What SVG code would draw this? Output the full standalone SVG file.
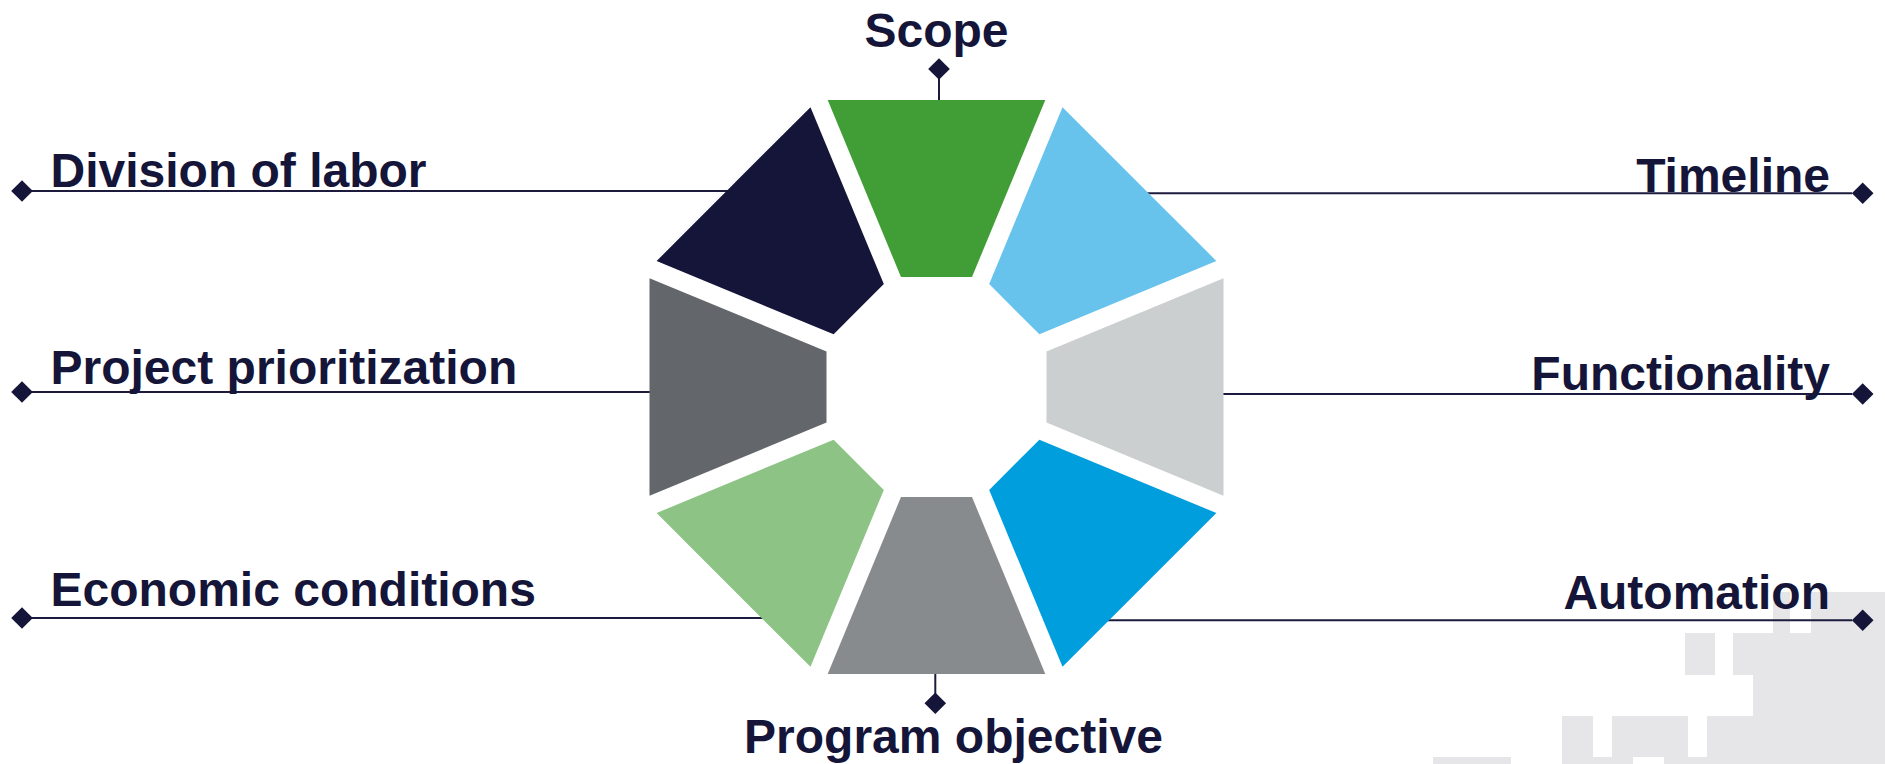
<svg xmlns="http://www.w3.org/2000/svg" width="1885" height="764" viewBox="0 0 1885 764">
  <style>
    .bg { fill: #E6E6E8; }
    .lbl { font-family: "Liberation Sans", Arial, sans-serif; font-weight: bold; font-size: 48px; fill: #141538; }
    .conn { stroke: #1C1B3D; stroke-width: 2; fill: none; }
    .dia { fill: #141538; }
  </style>
  <defs>
    <polygon id="seg" points="-108.8,-287 108.8,-287 35.5,-110 -35.5,-110"/>
    <polygon id="dm" points="0,-10.8 10.8,0 0,10.8 -10.8,0"/>
  </defs>
  <rect width="1885" height="764" fill="#FFFFFF"/>

  <g id="background">
    <rect class="bg" x="1773" y="592" width="17" height="41"/>
    <rect class="bg" x="1811" y="592" width="74" height="41"/>
    <rect class="bg" x="1685" y="633" width="30" height="42"/>
    <rect class="bg" x="1733" y="633" width="152" height="42"/>
    <rect class="bg" x="1753" y="675" width="132" height="41"/>
    <rect class="bg" x="1562" y="716" width="31" height="41"/>
    <rect class="bg" x="1612" y="716" width="76" height="41"/>
    <rect class="bg" x="1707" y="716" width="178" height="41"/>
    <rect class="bg" x="1433" y="757" width="78" height="7"/>
    <rect class="bg" x="1562" y="757" width="71" height="7"/>
    <rect class="bg" x="1664" y="757" width="221" height="7"/>
  </g>

  <g id="connectors">
    <line class="conn" x1="939" y1="78" x2="939" y2="104"/>
    <line class="conn" x1="935.3" y1="670" x2="935.3" y2="694"/>
    <line class="conn" x1="30" y1="191" x2="734" y2="191"/>
    <line class="conn" x1="1142" y1="193.3" x2="1852" y2="193.3"/>
    <line class="conn" x1="30" y1="392" x2="656" y2="392"/>
    <line class="conn" x1="1217" y1="394" x2="1852" y2="394"/>
    <line class="conn" x1="30" y1="618" x2="768" y2="618"/>
    <line class="conn" x1="1102" y1="620.3" x2="1852" y2="620.3"/>
    <use href="#dm" class="dia" x="939" y="69"/>
    <use href="#dm" class="dia" x="935.3" y="703.3"/>
    <use href="#dm" class="dia" x="22" y="191"/>
    <use href="#dm" class="dia" x="1862.7" y="193.3"/>
    <use href="#dm" class="dia" x="22" y="392"/>
    <use href="#dm" class="dia" x="1862.7" y="394"/>
    <use href="#dm" class="dia" x="22" y="618"/>
    <use href="#dm" class="dia" x="1862.7" y="620.3"/>
  </g>

  <g id="octagon" transform="translate(936.5,387)">
    <g id="node-scope"><use href="#seg" fill="#419D36"/></g>
    <g id="node-timeline"><use href="#seg" fill="#68C3EC" transform="rotate(45)"/></g>
    <g id="node-functionality"><use href="#seg" fill="#CBCFCF" transform="rotate(90)"/></g>
    <g id="node-automation"><use href="#seg" fill="#009EDD" transform="rotate(135)"/></g>
    <g id="node-program-objective"><use href="#seg" fill="#888B8D" transform="rotate(180)"/></g>
    <g id="node-economic-conditions"><use href="#seg" fill="#8DC385" transform="rotate(225)"/></g>
    <g id="node-project-prioritization"><use href="#seg" fill="#63666A" transform="rotate(270)"/></g>
    <g id="node-division-of-labor"><use href="#seg" fill="#141538" transform="rotate(315)"/></g>
  </g>

  <g id="labels">
    <text class="lbl" x="936.5" y="47" text-anchor="middle">Scope</text>
    <text class="lbl" x="953.5" y="753" text-anchor="middle">Program objective</text>
    <text class="lbl" x="50.5" y="187">Division of labor</text>
    <text class="lbl" x="50.5" y="383.5">Project prioritization</text>
    <text class="lbl" x="50.5" y="605.5">Economic conditions</text>
    <text class="lbl" x="1830" y="191.5" text-anchor="end">Timeline</text>
    <text class="lbl" x="1830" y="390" text-anchor="end">Functionality</text>
    <text class="lbl" x="1830" y="609" text-anchor="end">Automation</text>
  </g>
</svg>
